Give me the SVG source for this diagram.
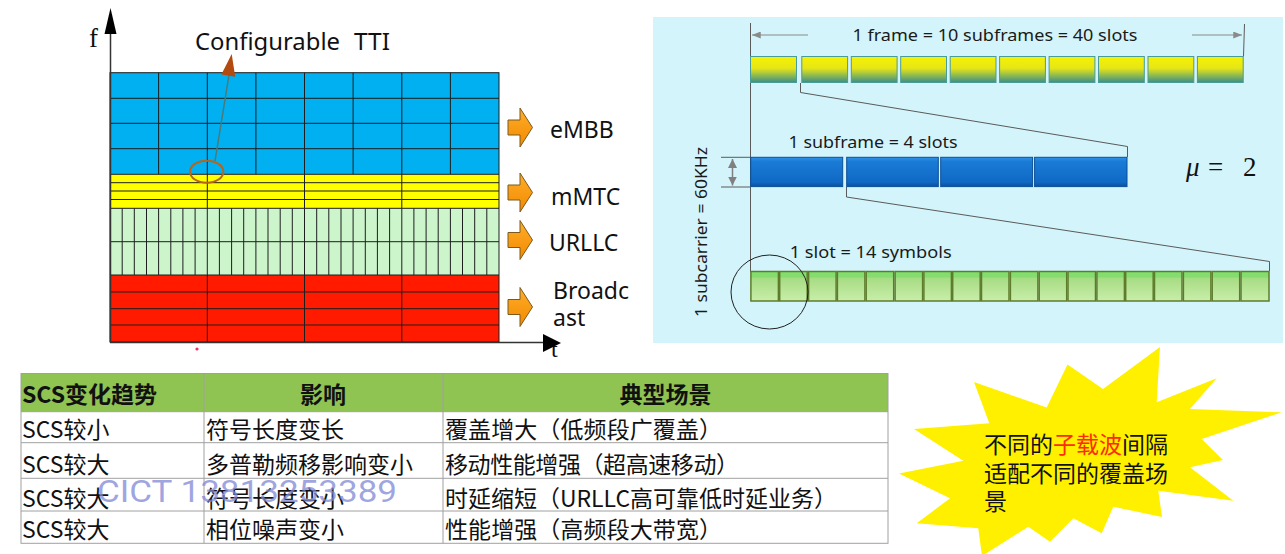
<svg xmlns="http://www.w3.org/2000/svg" width="1285" height="554" viewBox="0 0 1285 554">
<defs>
<style>
.grid{stroke:#1e1e1e;stroke-width:1;fill:none}
.lbl{font-family:"Noto Sans","Open Sans","Liberation Sans",sans-serif;font-size:23px;fill:#111}
.rt{font-family:"Noto Sans","Liberation Sans",sans-serif;font-size:17px;fill:#1a1a1a}
.cn{font-family:"Noto Sans CJK SC","Noto Sans",sans-serif;font-size:23px;fill:#111}
.cnb{font-family:"Noto Sans CJK SC","Noto Sans",sans-serif;font-size:23px;font-weight:bold;fill:#111}
.oarr{fill:url(#og);stroke:#7a5a1e;stroke-width:1}
.ybar{fill:url(#yg);stroke:#4a9c98;stroke-width:1}
.bbar{fill:url(#bg);stroke:#0b4f98;stroke-width:1}
.gcell{fill:url(#gg);stroke:#5e7d2c;stroke-width:1.5}
.thin{stroke:#5a5a5a;stroke-width:1;fill:none}
.tl{stroke:#a0a0a0;stroke-width:1;fill:none}
</style>
<linearGradient id="og" x1="0" y1="0" x2="0" y2="1"><stop offset="0" stop-color="#ffad2a"/><stop offset="1" stop-color="#f28a00"/></linearGradient>
<linearGradient id="yg" x1="0" y1="0" x2="0" y2="1"><stop offset="0" stop-color="#f6f200"/><stop offset="0.45" stop-color="#e6e618"/><stop offset="1" stop-color="#3a8e88"/></linearGradient>
<linearGradient id="bg" x1="0" y1="0" x2="0" y2="1"><stop offset="0" stop-color="#2e90e4"/><stop offset="0.15" stop-color="#1a7bd6"/><stop offset="0.85" stop-color="#0f69c4"/><stop offset="1" stop-color="#0a4f9c"/></linearGradient>
<linearGradient id="gg" x1="0" y1="0" x2="0" y2="1"><stop offset="0" stop-color="#7fe06c"/><stop offset="0.18" stop-color="#86dc6e"/><stop offset="0.24" stop-color="#a8dc84"/><stop offset="1" stop-color="#c8eeaa"/></linearGradient>
<marker id="ga" viewBox="0 0 10 8" refX="10" refY="4" markerWidth="9" markerHeight="7" markerUnits="userSpaceOnUse" orient="auto"><path d="M0,0 L10,4 L0,8 Z" fill="#8a8a8a"/></marker>
<marker id="dm" viewBox="0 0 10 10" refX="10" refY="5" markerWidth="9" markerHeight="10" markerUnits="userSpaceOnUse" orient="auto"><path d="M0,0 L10,5 L0,10 Z" fill="#808080"/></marker>
</defs>
<rect width="1285" height="554" fill="#ffffff"/>

<!-- LEFT: resource grid -->
<g id="grid-embb">
<rect x="110" y="72.7" width="389" height="101.6" fill="#00b0f0"/>
<path class="grid" d="M158.6,72.7V174.3M207.3,72.7V174.3M255.9,72.7V174.3M304.5,72.7V174.3M353.1,72.7V174.3M401.8,72.7V174.3M450.4,72.7V174.3M110,98.3H499M110,123.3H499M110,148.7H499"/>
</g>
<g id="grid-mmtc">
<rect x="110" y="174.3" width="389" height="34" fill="#ffff00"/>
<path class="grid" d="M207.3,174.3V208.3M304.5,174.3V208.3M401.8,174.3V208.3M110,182.7H499M110,191H499M110,199.5H499"/>
</g>
<g id="grid-urllc">
<rect x="110" y="208.3" width="389" height="66.7" fill="#ccf5cc"/>
<path class="grid" d="M122.2,208.3V275M134.3,208.3V275M146.5,208.3V275M158.6,208.3V275M170.8,208.3V275M182.9,208.3V275M195.1,208.3V275M207.3,208.3V275M219.4,208.3V275M231.6,208.3V275M243.7,208.3V275M255.9,208.3V275M268,208.3V275M280.2,208.3V275M292.3,208.3V275M304.5,208.3V275M316.7,208.3V275M328.8,208.3V275M341,208.3V275M353.1,208.3V275M365.3,208.3V275M377.4,208.3V275M389.6,208.3V275M401.8,208.3V275M413.9,208.3V275M426.1,208.3V275M438.2,208.3V275M450.4,208.3V275M462.5,208.3V275M474.7,208.3V275M486.8,208.3V275M110,241.7H499"/>
</g>
<g id="grid-broadcast">
<rect x="110" y="275" width="389" height="67" fill="#ff1a00"/>
<path class="grid" d="M207.3,275V342M304.5,275V342M401.8,275V342M110,292H499M110,308.7H499M110,325H499"/>
</g>
<rect x="110" y="72.7" width="389" height="269.3" class="grid"/>
<path class="grid" d="M110,174.3H499M110,208.3H499M110,275H499"/>

<g id="axes">
<text x="89" y="47" font-family="Liberation Serif,serif" font-size="27" fill="#111">f</text>
<text x="551" y="357" font-family="Liberation Serif,serif" font-size="24" fill="#111">t</text>
<line x1="110.5" y1="30" x2="110.5" y2="342" stroke="#333" stroke-width="1.5"/>
<polygon points="110.5,8 104.5,34 116.5,34" fill="#000"/>
<line x1="110" y1="342.5" x2="548" y2="342.5" stroke="#333" stroke-width="1.5"/>
<polygon points="561,343 543,334 543,352" fill="#000"/>
<circle cx="197" cy="349" r="1.6" fill="#e8336b"/>
</g>

<g id="tti">
<ellipse cx="206.7" cy="171.7" rx="16.7" ry="11" fill="none" stroke="#b5651d" stroke-width="2"/>
<line x1="215" y1="161" x2="229.5" y2="72" stroke="#4a7a7a" stroke-width="1.5"/>
<polygon points="231.7,54 221.4,74.6 235.2,76.8" fill="#b34a10"/>
<text y="50" class="lbl"><tspan x="195" textLength="145" lengthAdjust="spacingAndGlyphs">Configurable</tspan><tspan x="354" textLength="36" lengthAdjust="spacingAndGlyphs">TTI</tspan></text>
</g>

<g id="lbl-embb">
<polygon class="oarr" points="508,120 520,120 520,108 532.5,127.5 520,147 520,135 508,135"/>
<text x="550" y="137.7" class="lbl">eMBB</text>
</g>
<g id="lbl-mmtc">
<polygon class="oarr" points="508,185 520,185 520,173 532.5,192.5 520,212 520,200 508,200"/>
<text x="551" y="205" class="lbl">mMTC</text>
</g>
<g id="lbl-urllc">
<polygon class="oarr" points="508,232.5 520,232.5 520,220.5 532.5,240 520,259.5 520,247.5 508,247.5"/>
<text x="549" y="251" class="lbl">URLLC</text>
</g>
<g id="lbl-broadcast">
<polygon class="oarr" points="508,299.5 520,299.5 520,287.5 532.5,307 520,326.5 520,314.5 508,314.5"/>
<text x="553" y="299" class="lbl">Broadc</text>
<text x="553" y="325.7" class="lbl">ast</text>
</g>

<!-- RIGHT: numerology panel -->
<rect x="653" y="17" width="630" height="326" fill="#d3f4fa"/>

<g id="connectors">
<line x1="750.5" y1="23" x2="750.5" y2="272" class="thin"/>
<line x1="808" y1="35" x2="752" y2="35" stroke="#8a8a8a" stroke-width="1.2" marker-end="url(#ga)"/>
<line x1="1192" y1="35" x2="1242" y2="35" stroke="#8a8a8a" stroke-width="1.2" marker-end="url(#ga)"/>
<line x1="1244.5" y1="24" x2="1243.5" y2="56.5" class="thin"/>
<polyline points="800.5,83 800.5,92.5 1127.5,146.5 1127.5,157" class="thin"/>
<polyline points="846.5,187 846.5,197 1269.5,261.5 1269.5,271" class="thin"/>
<line x1="721" y1="157.3" x2="750.5" y2="157.3" class="thin"/>
<line x1="721" y1="187" x2="750.5" y2="187" class="thin"/>
<line x1="732.5" y1="172" x2="732.5" y2="159" stroke="#808080" stroke-width="1.5" marker-end="url(#dm)"/>
<line x1="732.5" y1="172" x2="732.5" y2="185.5" stroke="#808080" stroke-width="1.5" marker-end="url(#dm)"/>
</g>

<g id="frame">
<text x="852.5" y="40.7" class="rt" textLength="285" lengthAdjust="spacingAndGlyphs">1 frame = 10 subframes = 40 slots</text>
<rect class="ybar" x="750.5" y="56.5" width="46" height="26"/>
<rect class="ybar" x="801.8" y="56.5" width="45.8" height="26"/>
<rect class="ybar" x="851.3" y="56.5" width="45.8" height="26"/>
<rect class="ybar" x="900.7" y="56.5" width="45.8" height="26"/>
<rect class="ybar" x="950.2" y="56.5" width="45.8" height="26"/>
<rect class="ybar" x="999.6" y="56.5" width="45.8" height="26"/>
<rect class="ybar" x="1049.1" y="56.5" width="45.8" height="26"/>
<rect class="ybar" x="1098.5" y="56.5" width="45.8" height="26"/>
<rect class="ybar" x="1148" y="56.5" width="45.8" height="26"/>
<rect class="ybar" x="1197.4" y="56.5" width="45.8" height="26"/>
</g>

<g id="subframe">
<text x="788.5" y="148.3" class="rt" textLength="169" lengthAdjust="spacingAndGlyphs">1 subframe = 4 slots</text>
<rect class="bbar" x="750.7" y="157.3" width="92" height="29.3"/>
<rect class="bbar" x="846.7" y="157.3" width="91.6" height="29.3"/>
<rect class="bbar" x="940.7" y="157.3" width="91.9" height="29.3"/>
<rect class="bbar" x="1034.6" y="157.3" width="92.4" height="29.3"/>
</g>

<g id="mu">
<text x="1186" y="176" font-family="Liberation Serif,serif" font-size="27" fill="#111"><tspan font-style="italic">μ</tspan><tspan x="1208">=</tspan><tspan x="1243">2</tspan></text>
</g>

<g id="subcarrier">
<text transform="translate(707,317) rotate(-90)" class="rt" textLength="170" lengthAdjust="spacingAndGlyphs">1 subcarrier = 60KHz</text>
</g>

<g id="slot">
<text x="789.7" y="258.3" class="rt" textLength="162" lengthAdjust="spacingAndGlyphs">1 slot = 14 symbols</text>
<rect class="gcell" x="750.9" y="271.5" width="27.5" height="29.5"/>
<rect class="gcell" x="779.7" y="271.5" width="27.5" height="29.5"/>
<rect class="gcell" x="808.6" y="271.5" width="27.5" height="29.5"/>
<rect class="gcell" x="837.4" y="271.5" width="27.5" height="29.5"/>
<rect class="gcell" x="866.2" y="271.5" width="27.5" height="29.5"/>
<rect class="gcell" x="895.1" y="271.5" width="27.5" height="29.5"/>
<rect class="gcell" x="923.9" y="271.5" width="27.5" height="29.5"/>
<rect class="gcell" x="952.7" y="271.5" width="27.5" height="29.5"/>
<rect class="gcell" x="981.5" y="271.5" width="27.5" height="29.5"/>
<rect class="gcell" x="1010.4" y="271.5" width="27.5" height="29.5"/>
<rect class="gcell" x="1039.2" y="271.5" width="27.5" height="29.5"/>
<rect class="gcell" x="1068" y="271.5" width="27.5" height="29.5"/>
<rect class="gcell" x="1096.9" y="271.5" width="27.5" height="29.5"/>
<rect class="gcell" x="1125.7" y="271.5" width="27.5" height="29.5"/>
<rect class="gcell" x="1154.5" y="271.5" width="27.5" height="29.5"/>
<rect class="gcell" x="1183.4" y="271.5" width="27.5" height="29.5"/>
<rect class="gcell" x="1212.2" y="271.5" width="27.5" height="29.5"/>
<rect class="gcell" x="1241" y="271.5" width="28" height="29.5"/>
<ellipse cx="769.5" cy="292" rx="38.5" ry="37" fill="none" stroke="#222" stroke-width="1"/>
</g>

<!-- TABLE -->
<g id="table">
<rect x="21" y="373.5" width="867" height="38.2" fill="#8fc352"/>
<rect x="21" y="373.5" width="867" height="169.8" class="tl"/>
<path class="tl" d="M21,411.7H888M21,442.7H888M21,478.3H888M21,511H888M204,373.5V543.3M443,373.5V543.3"/>
<text x="22" y="403" class="cnb">SCS变化趋势</text>
<text x="323" y="403" class="cnb" text-anchor="middle">影响</text>
<text x="665.5" y="403" class="cnb" text-anchor="middle">典型场景</text>
<text x="22" y="438" class="cn">SCS较小</text>
<text x="206" y="438" class="cn">符号长度变长</text>
<text x="445" y="438" class="cn" textLength="277" lengthAdjust="spacing">覆盖增大（低频段广覆盖）</text>
<text x="22" y="473" class="cn">SCS较大</text>
<text x="206" y="473" class="cn">多普勒频移影响变小</text>
<text x="445" y="473" class="cn" textLength="294" lengthAdjust="spacing">移动性能增强（超高速移动）</text>
<text x="22" y="507" class="cn">SCS较大</text>
<text x="206" y="507" class="cn">符号长度变小</text>
<text x="445" y="507" class="cn" textLength="392" lengthAdjust="spacing">时延缩短（URLLC高可靠低时延业务）</text>
<text x="22" y="538" class="cn">SCS较大</text>
<text x="206" y="538" class="cn">相位噪声变小</text>
<text x="445" y="538" class="cn" textLength="277" lengthAdjust="spacing">性能增强（高频段大带宽）</text>
<text x="97" y="502" font-family="Roboto,'Liberation Sans',sans-serif" font-size="32" fill="#7f88d6" fill-opacity="0.75" textLength="300" lengthAdjust="spacingAndGlyphs">CICT 13813253389</text>
</g>

<!-- STAR -->
<g id="star">
<polygon fill="#fff000" points="974,382 1046.7,407.5 1067.5,364.5 1103,389 1160,347 1156.7,402.3 1216.7,378.3 1190,409 1281.7,412.3 1201.7,439 1223,460 1190,467.3 1233.3,500.7 1158.3,490.7 1162,517 1113.3,506.7 1101.7,533.3 1073.3,518.3 1050,541.7 1028.3,526.7 982,556 978.3,528.3 916.7,523.3 950,498.3 899,473.5 963.3,460.7 914,429 989.3,423.3"/>
<text x="984" y="453" class="cn"><tspan>不同的</tspan><tspan fill="#ff2a00">子载波</tspan><tspan>间隔</tspan></text>
<text x="984" y="482" class="cn">适配不同的覆盖场</text>
<text x="984" y="510" class="cn">景</text>
</g>
</svg>
